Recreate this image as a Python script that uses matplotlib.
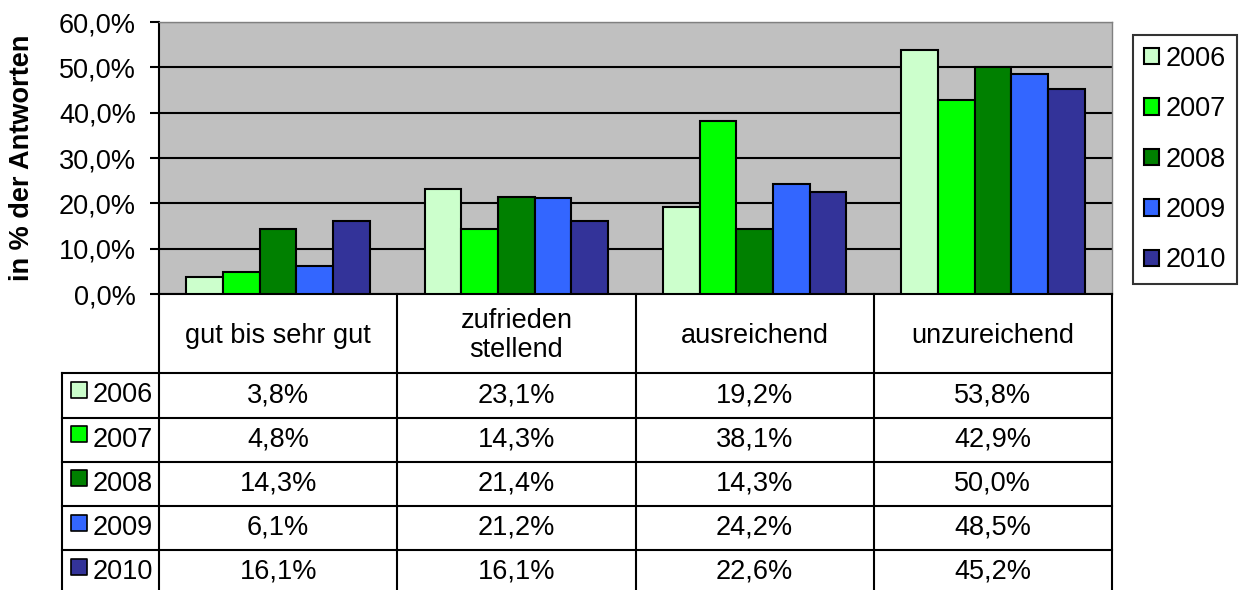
import matplotlib
matplotlib.use("Agg")
import matplotlib.pyplot as plt
from matplotlib.ticker import FuncFormatter

plt.rcParams['font.family'] = ['Liberation Sans', 'DejaVu Sans']

categories = ["gut bis sehr gut", "zufrieden\nstellend", "ausreichend", "unzureichend"]
years = ["2006", "2007", "2008", "2009", "2010"]
v2006 = [3.8, 23.1, 19.2, 53.8]
v2007 = [4.8, 14.3, 38.1, 42.9]
v2008 = [14.3, 21.4, 14.3, 50.0]
v2009 = [6.1, 21.2, 24.2, 48.5]
v2010 = [16.1, 16.1, 22.6, 45.2]
series = [v2006, v2007, v2008, v2009, v2010]
colors = ["#CCFFCC", "#00FF00", "#008000", "#3366FF", "#333399"]
yticks = [0, 10, 20, 30, 40, 50, 60]

W, H = 1239, 590
FS = 19.5
LW = 1.5


def pct(v):
    return f"{v:.1f}%".replace(".", ",")


fig = plt.figure(figsize=(W / 100, H / 100), dpi=100)

# bar chart area
ax = fig.add_axes([159 / W, (H - 294) / H, (1112 - 159) / W, (294 - 22) / H])
ax.set_facecolor("#C0C0C0")
ncat = len(categories)
bw = 1 / 6.5
for j, (vals, col, yr) in enumerate(zip(series, colors, years)):
    xs = [i + (j - 2) * bw for i in range(ncat)]
    ax.bar(xs, vals, width=bw, color=col, edgecolor="black", linewidth=LW,
           label=yr, zorder=3)
ax.set_xlim(-0.5, ncat - 0.5)
ax.set_ylim(0, 60)
ax.set_yticks(yticks)
ax.yaxis.set_major_formatter(FuncFormatter(lambda v, p: pct(v)))
ax.tick_params(axis="y", labelsize=FS, length=6.5, width=LW, pad=10, direction="out")
ax.set_xticks([])
ax.grid(axis="y", color="black", linewidth=LW, zorder=1)
for s in ("top", "right"):
    ax.spines[s].set_color("#808080")
    ax.spines[s].set_linewidth(1)
for s in ("left", "bottom"):
    ax.spines[s].set_linewidth(LW)
ax.set_ylabel("in % der Antworten", fontsize=FS, fontweight="bold")
ax.yaxis.set_label_coords((35 - 159) / 953, 0.5)

leg = fig.legend(loc="upper left", bbox_to_anchor=(1133 / W, 1 - 35 / H),
                 fontsize=FS, frameon=True, fancybox=False, edgecolor="black",
                 handlelength=0.55, handleheight=0.55, handletextpad=0.25,
                 labelspacing=0.9, borderpad=0.4, borderaxespad=0)
leg.get_frame().set_linewidth(LW)

# data table below the chart
hh = 1.8
nrow = len(years)
lab_w = 97 / 238.25
tx = fig.add_axes([62 / W, (H - 594) / H, (1112 - 62) / W, 300 / H])
tx.set_xlim(-0.5 - lab_w, ncat - 0.5)
tx.set_ylim(hh + nrow, 0)
tx.axis("off")
kw = dict(color="black", linewidth=LW, clip_on=False)
for i in range(ncat + 1):
    tx.plot([i - 0.5, i - 0.5], [0, hh + nrow], **kw)
tx.plot([-0.5 - lab_w] * 2, [hh, hh + nrow], **kw)
tx.plot([-0.5 - lab_w, ncat - 0.5], [hh, hh], **kw)
for r in range(1, nrow + 1):
    tx.plot([-0.5 - lab_w, ncat - 0.5], [hh + r, hh + r], **kw)

for i, c in enumerate(categories):
    tx.text(i, hh / 2 + 0.05, c, ha="center", va="center", fontsize=FS, linespacing=1.15)

for r, (vals, col, yr) in enumerate(zip(series, colors, years)):
    yc = hh + r + 0.5
    tx.scatter([-0.5 - lab_w + 0.07], [yc - 0.12], marker="s", s=130,
               color=col, edgecolor="black", linewidth=1.2, clip_on=False)
    tx.text(-0.5 - lab_w + 0.13, yc, yr, ha="left", va="center", fontsize=FS)
    for i, v in enumerate(vals):
        tx.text(i, yc, pct(v), ha="center", va="center", fontsize=FS)

fig.savefig("out.png", dpi=100)
